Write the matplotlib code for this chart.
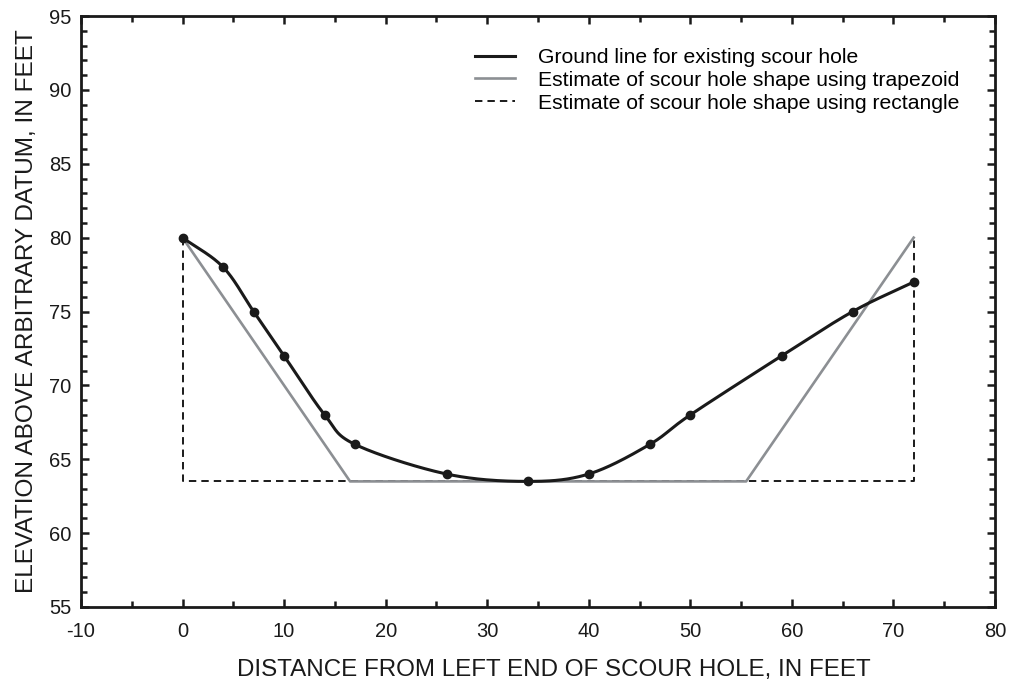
import numpy as np
import matplotlib
matplotlib.use('Agg')
import matplotlib.pyplot as plt
from matplotlib.ticker import MultipleLocator

plt.rcParams['font.family'] = ['Liberation Sans', 'DejaVu Sans']
plt.rcParams['axes.unicode_minus'] = False

# Dados medidos do perfil do buraco de erosão
dist_pts = [0, 4, 7, 10, 14, 17, 26, 34, 40, 46, 50, 59, 66, 72]
elev_pts = [80, 78, 75, 72, 68, 66, 64, 63.5, 64, 66, 68, 72, 75, 77]

# Estimativa trapezoidal
trap_x = [0, 16.5, 55.5, 72]
trap_y = [80, 63.5, 63.5, 80]

# Estimativa retangular
rect_x = [0, 0, 72, 72]
rect_y = [80, 63.5, 63.5, 80]


def catmull_rom(x, y, n=30):
    # curva suave passando pelos pontos (apenas para desenho)
    p = np.column_stack([x, y]).astype(float)
    p = np.vstack([2 * p[0] - p[1], p, 2 * p[-1] - p[-2]])
    out = []
    t = np.linspace(0, 1, n, endpoint=False)[:, None]
    for i in range(1, len(p) - 2):
        p0, p1, p2, p3 = p[i - 1], p[i], p[i + 1], p[i + 2]
        seg = 0.5 * ((2 * p1) + (-p0 + p2) * t + (2 * p0 - 5 * p1 + 4 * p2 - p3) * t ** 2
                     + (-p0 + 3 * p1 - 3 * p2 + p3) * t ** 3)
        out.append(seg)
    out.append(p[-2][None, :])
    out = np.vstack(out)
    return out[:, 0], out[:, 1]


sx, sy = catmull_rom(dist_pts, elev_pts)

fig = plt.figure(figsize=(10.11, 6.82), dpi=100)
ax = fig.add_axes([0.0801, 0.110, 0.904, 0.8665])

ax.plot(rect_x, rect_y, color='#1a1a1a', lw=1.4, ls=(0, (3.8, 2.6)), zorder=2,
        label='Estimate of scour hole shape using rectangle')
ax.plot(trap_x, trap_y, color='#8c8f93', lw=1.9, zorder=3,
        label='Estimate of scour hole shape using trapezoid')
ax.plot(sx, sy, color='#1a1a1a', lw=2.2, zorder=4,
        label='Ground line for existing scour hole')
ax.plot(dist_pts, elev_pts, 'o', color='#1a1a1a', ms=6, zorder=5)

ax.set_xlim(-10, 80)
ax.set_ylim(55, 95)
ax.xaxis.set_major_locator(MultipleLocator(10))
ax.xaxis.set_minor_locator(MultipleLocator(5))
ax.yaxis.set_major_locator(MultipleLocator(5))
ax.yaxis.set_minor_locator(MultipleLocator(1))
ax.tick_params(which='both', direction='in', top=True, right=True, width=1.8, color='#1a1a1a',
               labelcolor='#1a1a1a')
ax.tick_params(which='major', length=6, labelsize=14.5)
ax.tick_params(axis='x', which='major', pad=11)
ax.tick_params(axis='y', which='major', pad=7)
ax.tick_params(which='minor', length=4)
for s in ax.spines.values():
    s.set_linewidth(2)
    s.set_color('#1a1a1a')

ax.set_xlabel('DISTANCE FROM LEFT END OF SCOUR HOLE, IN FEET', fontsize=17.4, labelpad=12.5, color='#1a1a1a')
ax.xaxis.label.set_x(0.5175)
ax.set_ylabel('ELEVATION ABOVE ARBITRARY DATUM, IN FEET', fontsize=17.6, labelpad=8, color='#1a1a1a')

h, l = ax.get_legend_handles_labels()
ax.legend(h[::-1], l[::-1], loc='upper left', bbox_to_anchor=(0.41, 0.978), frameon=False,
          fontsize=15.2, handlelength=1.9, handletextpad=1.1, labelspacing=0.18)

plt.savefig('out.png', dpi=100)
plt.close()
